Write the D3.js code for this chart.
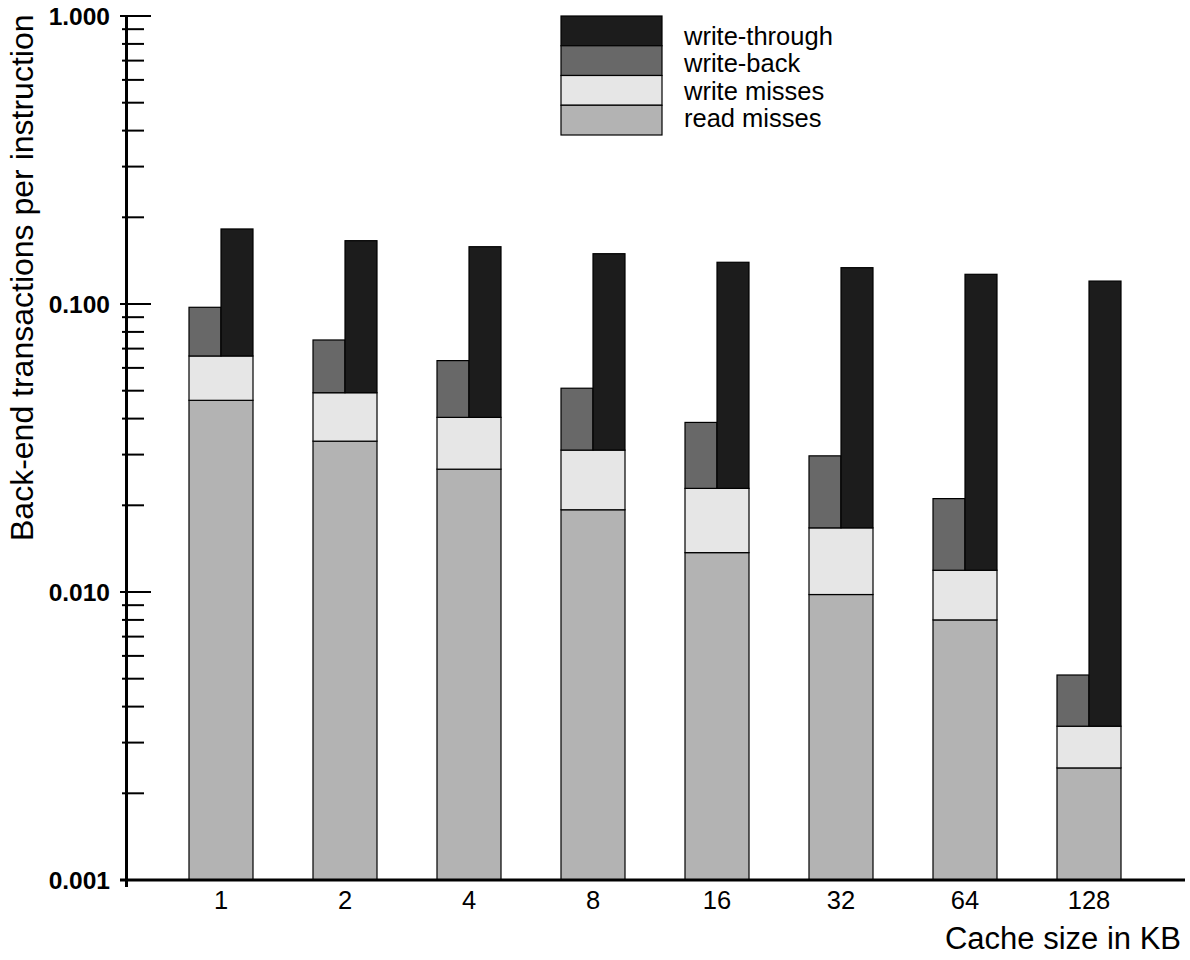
<!DOCTYPE html>
<html>
<head>
<meta charset="utf-8">
<script src="https://cdn.jsdelivr.net/npm/d3@7"></script>
<style>
  html, body { margin: 0; padding: 0; background: #fff; }
  svg { display: block; font-family: "Liberation Sans", Arial, Helvetica, sans-serif; }
</style>
</head>
<body>
<svg id="chart" width="1190" height="960"></svg>
<script>
// Cache sizes (KB) along the x axis
const cacheSizes = ["1", "2", "4", "8", "16", "32", "64", "128"];

// Back-end transactions per instruction, per component
const readMisses   = [0.0463, 0.0334, 0.0267, 0.0193, 0.0137, 0.0098, 0.0080, 0.00245];
const writeMisses  = [0.0197, 0.0158, 0.0137, 0.0118, 0.0092, 0.0069, 0.0039, 0.00097];
const writeBack    = [0.0314, 0.0258, 0.0232, 0.0199, 0.0159, 0.0130, 0.0092, 0.00173];
const writeThrough = [0.1162, 0.1167, 0.1177, 0.1184, 0.1167, 0.1170, 0.1149, 0.1167];

// Major ticks of the logarithmic y axis
const yMajorTicks = [0.001, 0.01, 0.1, 1];

const legendLabels = ["write-through", "write-back", "write misses", "read misses"];
const legendColors = ["#1c1c1c", "#686868", "#e6e6e6", "#b3b3b3"];

const svg = d3.select("#chart");

const x = d3.scaleBand()
  .domain(cacheSizes)
  .range([159, 1151])
  .paddingInner(60 / 124)
  .paddingOuter(30 / 124);

const y = d3.scaleLog().domain([0.001, 1]).range([880, 16]);

const rows = cacheSizes.map((c, i) => {
  const r = readMisses[i];
  const rw = r + writeMisses[i];
  return { c, r, rw, wb: rw + writeBack[i], wt: rw + writeThrough[i] };
});

const bars = svg.append("g").attr("stroke", "#000").attr("stroke-width", 1.2);
const bw = x.bandwidth();

// read misses: full width from the axis floor
bars.selectAll(".rm").data(rows).join("rect")
  .attr("x", d => x(d.c)).attr("width", bw)
  .attr("y", d => y(d.r)).attr("height", d => y(0.001) - y(d.r))
  .attr("fill", legendColors[3]);

// write misses: full width on top of read misses
bars.selectAll(".wm").data(rows).join("rect")
  .attr("x", d => x(d.c)).attr("width", bw)
  .attr("y", d => y(d.rw)).attr("height", d => y(d.r) - y(d.rw))
  .attr("fill", legendColors[2]);

// write-back: left half on top of the misses
bars.selectAll(".wb").data(rows).join("rect")
  .attr("x", d => x(d.c)).attr("width", bw / 2)
  .attr("y", d => y(d.wb)).attr("height", d => y(d.rw) - y(d.wb))
  .attr("fill", legendColors[1]);

// write-through: right half on top of the misses
bars.selectAll(".wt").data(rows).join("rect")
  .attr("x", d => x(d.c) + bw / 2).attr("width", bw / 2)
  .attr("y", d => y(d.wt)).attr("height", d => y(d.rw) - y(d.wt))
  .attr("fill", legendColors[0]);

// y axis: line, minor and major ticks
const axisX = 126.5;
const yAxis = svg.append("g").attr("stroke", "#000");
yAxis.append("line")
  .attr("x1", axisX).attr("x2", axisX)
  .attr("y1", y(1)).attr("y2", y(0.001) + 7)
  .attr("stroke-width", 3);

const minorTicks = [];
yMajorTicks.slice(0, -1).forEach(m => {
  for (let k = 2; k <= 9; k++) minorTicks.push(m * k);
});
yAxis.selectAll(".minor").data(minorTicks).join("line")
  .attr("x1", 122).attr("x2", 144)
  .attr("y1", d => y(d)).attr("y2", d => y(d))
  .attr("stroke-width", 2);
yAxis.selectAll(".major").data(yMajorTicks).join("line")
  .attr("x1", 120).attr("x2", 151)
  .attr("y1", d => y(d)).attr("y2", d => y(d))
  .attr("stroke-width", 2);

svg.append("g").selectAll("text").data(yMajorTicks).join("text")
  .attr("x", 110).attr("y", d => y(d)).attr("dy", "0.36em")
  .attr("text-anchor", "end")
  .attr("font-size", 24.5).attr("font-weight", "bold")
  .text(d3.format(".3f"));

// x axis
svg.append("line")
  .attr("x1", 120).attr("x2", 1185)
  .attr("y1", y(0.001)).attr("y2", y(0.001))
  .attr("stroke", "#000").attr("stroke-width", 3);

svg.append("g").selectAll("text").data(cacheSizes).join("text")
  .attr("x", d => x(d) + bw / 2).attr("y", 909)
  .attr("text-anchor", "middle")
  .attr("font-size", 25.5)
  .text(d => d);

// axis titles
svg.append("text")
  .attr("x", 1181).attr("y", 949)
  .attr("text-anchor", "end")
  .attr("font-size", 31)
  .text("Cache size in KB");

svg.append("text")
  .attr("transform", "translate(33,541) rotate(-90)")
  .attr("font-size", 32)
  .text("Back-end transactions per instruction");

// legend
const ly = d3.scaleBand().domain(legendLabels).range([16, 135]);
const legend = svg.append("g");
legend.selectAll("rect").data(legendLabels).join("rect")
  .attr("x", 561).attr("width", 101)
  .attr("y", d => ly(d)).attr("height", ly.bandwidth())
  .attr("fill", (d, i) => legendColors[i])
  .attr("stroke", "#000").attr("stroke-width", 1.2);
legend.selectAll("text").data(legendLabels).join("text")
  .attr("x", 684).attr("y", (d, i) => 45 + i * 27.4)
  .attr("font-size", 25.5)
  .text(d => d);
</script>
</body>
</html>
